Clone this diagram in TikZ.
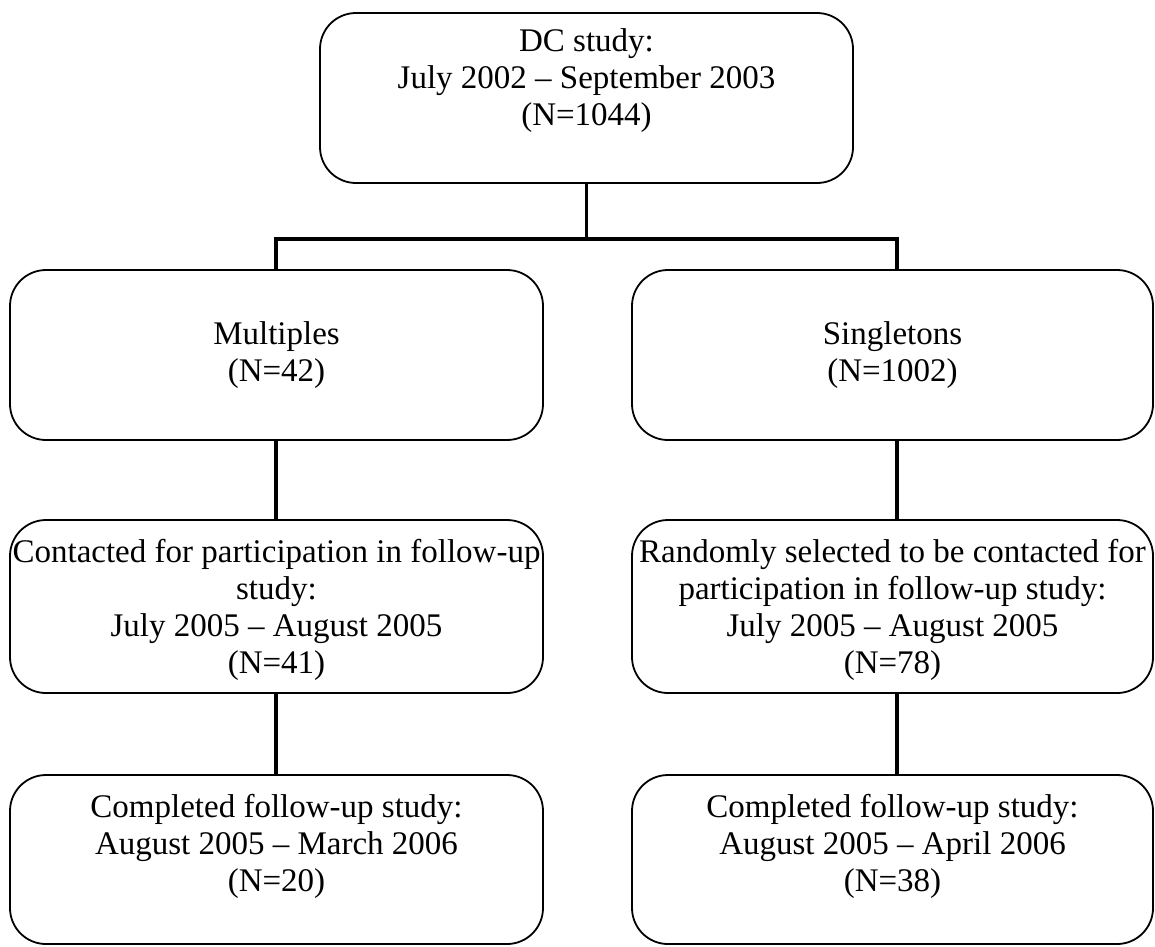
\documentclass[tikz,border=0pt]{standalone}
\usepackage{fontspec}
\setmainfont{Liberation Serif}
\begin{document}
\begin{tikzpicture}[x=1pt,y=-1pt,
  boxst/.style={draw, line width=1.8pt, rounded corners=36pt, inner sep=0pt},
  txt/.style={align=center, inner sep=0pt, anchor=north, font=\fontsize{33}{37}\selectfont},
  conn/.style={line width=3.8pt}]
\useasboundingbox (0,0) rectangle (1155,946);
% boxes
\node[boxst, minimum width=533pt, minimum height=170pt] (dc) at (586.5,98) {};
\node[boxst, minimum width=533pt, minimum height=170pt] (mult) at (276.5,355) {};
\node[boxst, minimum width=521pt, minimum height=170pt] (sing) at (892.5,355) {};
\node[boxst, minimum width=533pt, minimum height=173pt] (cont) at (276.5,606.5) {};
\node[boxst, minimum width=521pt, minimum height=173pt] (rand) at (892.5,606.5) {};
\node[boxst, minimum width=533pt, minimum height=169pt] (compl) at (276.5,859.5) {};
\node[boxst, minimum width=521pt, minimum height=169pt] (compr) at (892.5,859.5) {};
% texts
\node[txt] (tdc) at ([yshift=-16.5pt]dc.north) {DC study:\\July 2002 \textendash{} September 2003\\(N=1044)};
\node[txt] (tmult) at ([yshift=-52.5pt]mult.north) {Multiples\\(N=42)};
\node[txt] (tsing) at ([yshift=-52.5pt]sing.north) {Singletons\\(N=1002)};
\node[txt] (tcont) at ([yshift=-19.5pt]cont.north) {Contacted for participation in follow-up\\study:\\July 2005 \textendash{} August 2005\\(N=41)};
\node[txt] (trand) at ([yshift=-19.5pt]rand.north) {Randomly selected to be contacted for\\participation in follow-up study:\\July 2005 \textendash{} August 2005\\(N=78)};
\node[txt] (tcompl) at ([yshift=-20pt]compl.north) {Completed follow-up study:\\August 2005 \textendash{} March 2006\\(N=20)};
\node[txt] (tcompr) at ([yshift=-20pt]compr.north) {Completed follow-up study:\\August 2005 \textendash{} April 2006\\(N=38)};
% connectors
\coordinate (jl) at (276,239);
\coordinate (jr) at (897,239);
\draw[conn] (dc.south) -- (dc.south |- jl);
\draw[conn] (jl |- mult.north) -- (jl) -- (jr) -- (jr |- sing.north);
\draw[conn] (jl |- mult.south) -- (jl |- cont.north);
\draw[conn] (jl |- cont.south) -- (jl |- compl.north);
\draw[conn] (jr |- sing.south) -- (jr |- rand.north);
\draw[conn] (jr |- rand.south) -- (jr |- compr.north);
\end{tikzpicture}
\end{document}
